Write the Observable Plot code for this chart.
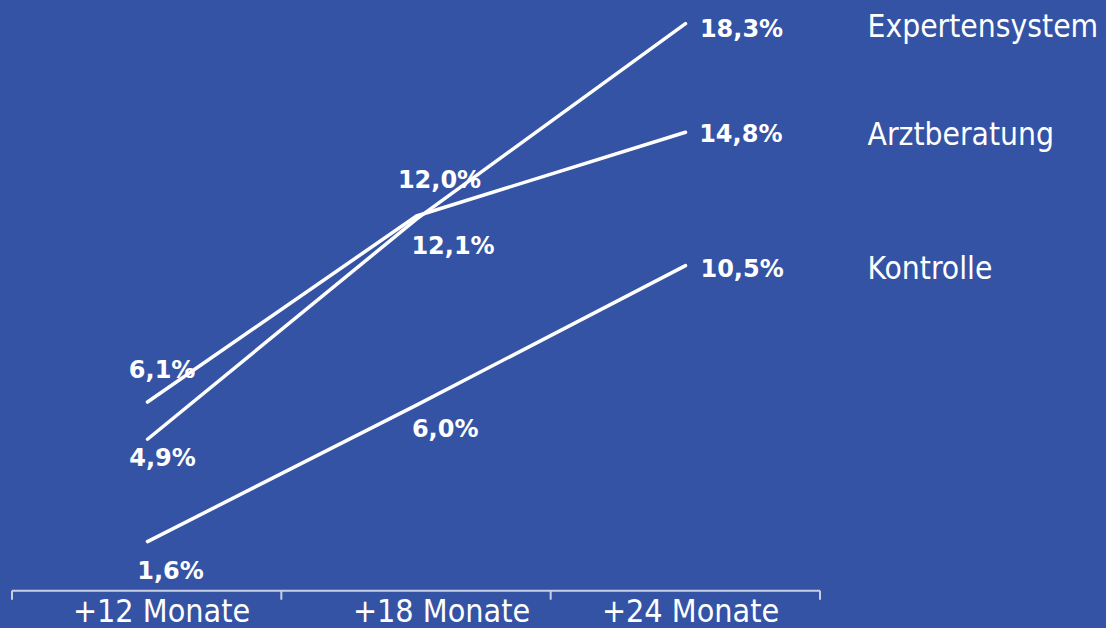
<!DOCTYPE html>
<html><head><meta charset="utf-8">
<script src="https://cdn.jsdelivr.net/npm/d3@7"></script>
<script src="https://cdn.jsdelivr.net/npm/@observablehq/plot@0.6"></script>
<style>html,body{margin:0;padding:0;background:#3453a5;overflow:hidden}</style>
</head><body><div id="chart"></div>
<script>
// ---- data ----
const categories = ["+12 Monate", "+18 Monate", "+24 Monate"];
const seriesNames = ["Expertensystem", "Arztberatung", "Kontrolle"];
const expertensystem = [4.9, 12.0, 18.3];
const arztberatung = [6.1, 12.1, 14.8];
const kontrolle = [1.6, 6.0, 10.5];

// ---- label placement (style) ----
const labelDx = {Expertensystem: [15, 23, 56], Arztberatung: [14.6, 36.5, 55.3], Kontrolle: [23, 28.7, 56.6]};
const labelDy = {Expertensystem: [19.5, -39, 5.5], Arztberatung: [-32, 30.5, 2.5], Kontrolle: [30, 24, 3.5]};
const axisLabelDx = [14, 25, 5];

const bg = "#3453a5";
const axisColor = "#c9d0e6";
const condensed = "'DejaVu Sans Condensed', 'DejaVu Sans', sans-serif";
const boldFont = "'DejaVu Sans', Verdana, sans-serif";

const seriesValues = [expertensystem, arztberatung, kontrolle];
const rows = seriesNames.flatMap((s, si) => categories.map((c, ci) => ({series: s, cat: c, ci, value: seriesValues[si][ci]})));
const fmt = v => v.toFixed(1).replace(".", ",") + "%";

function axisBaseline(index, scales, values, dimensions) {
  const x = scales.x, y = scales.y;
  const range = x.range ? x.range() : [dimensions.marginLeft, dimensions.width - dimensions.marginRight];
  const n = categories.length;
  const step = (range[1] - range[0]) / n;
  const y0 = y(0);
  const g = d3.create("svg:g").attr("stroke", axisColor).attr("stroke-width", 2).attr("fill", "none");
  g.append("line").attr("x1", range[0]).attr("x2", range[1]).attr("y1", y0).attr("y2", y0);
  for (let i = 0; i <= n; i++) {
    const xx = range[0] + i * step;
    g.append("line").attr("x1", xx).attr("x2", xx).attr("y1", y0).attr("y2", y0 + 9);
  }
  return g.node();
}

const valueLabelMarks = rows.map(r => Plot.text([r], {
  x: "cat", y: "value", text: d => fmt(d.value),
  dx: labelDx[r.series][r.ci], dy: labelDy[r.series][r.ci],
  fill: "white", fontSize: 24, fontWeight: "bold", fontFamily: boldFont, textAnchor: "middle"
}));

const axisLabelMarks = categories.map((c, i) => Plot.text([c], {
  x: d => d, y: () => 0, text: d => d, dx: axisLabelDx[i], dy: 21,
  fill: "white", fontSize: 32, fontFamily: condensed, textAnchor: "middle"
}));

const plot = Plot.plot({
  width: 1106,
  height: 628,
  marginLeft: 12,
  marginRight: 286,
  marginTop: 1.5,
  marginBottom: 37.3,
  style: {background: bg, color: "white", overflow: "visible"},
  x: {type: "point", domain: categories, padding: 0.5, axis: null},
  y: {domain: [0, 19], axis: null},
  marks: [
    axisBaseline,
    Plot.line(rows, {x: "cat", y: "value", z: "series", stroke: "white", strokeWidth: 3.5, strokeLinecap: "round"}),
    ...valueLabelMarks,
    Plot.text(rows.filter(d => d.ci === categories.length - 1), {
      x: "cat", y: "value", text: "series", dx: 182, dy: 3,
      fill: "white", fontSize: 31.5, fontFamily: condensed, textAnchor: "start"
    }),
    ...axisLabelMarks
  ]
});
document.getElementById("chart").append(plot);
</script>
</body></html>
